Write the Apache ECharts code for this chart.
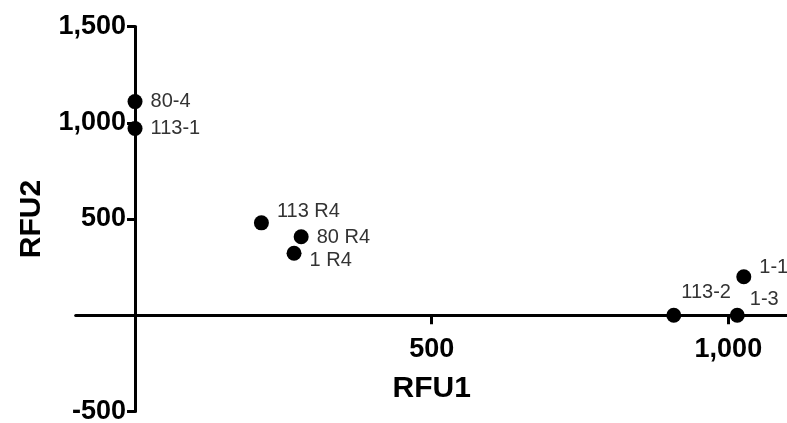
<!DOCTYPE html>
<html>
<head>
<meta charset="utf-8">
<script src="https://cdn.jsdelivr.net/npm/echarts@6/dist/echarts.min.js"></script>
<style>
html,body{margin:0;padding:0;background:#fff;}
#chart{width:787px;height:423px;}
</style>
</head>
<body>
<div id="chart"></div>
<script>
// Data
const pointNames = ['80-4', '113-1', '113 R4', '80 R4', '1 R4', '1-1', '113-2', '1-3'];
const rfu1Values = [0, 0, 213, 280, 268, 1026, 908, 1015];
const rfu2Values = [1110, 970, 480, 408, 322, 200, 0, 0];
const xTickValues = [500, 1000];
const yTickValues = [-500, 500, 1000, 1500];

// Label placement (style, not data)
const labelOffsets = [[0, 0], [0, 0], [0, -11], [0, 1], [0, 7], [0, -9], [-8, -23], [-3, -16]];

const points = pointNames.map((n, i) => ({
  name: n,
  value: [rfu1Values[i], rfu2Values[i]],
  label: { offset: labelOffsets[i] }
}));

const fmt = v => Number(v).toLocaleString('en-US');
const font = 'Liberation Sans, Arial, sans-serif';

// layout
const G = { left: 75.7, width: 712, top: 26.5, height: 385 };
const X = { min: -100, max: 1100 };
const Y = { min: -500, max: 1500 };
// shift each axis so it crosses the other at zero
const yAxisOffset = -((0 - X.min) / (X.max - X.min) * G.width);
const xAxisOffset = -((0 - Y.min) / (Y.max - Y.min) * G.height);

const chart = echarts.init(document.getElementById('chart'));
chart.setOption({
  animation: false,
  backgroundColor: '#fff',
  grid: Object.assign({ containLabel: false, outerBoundsMode: 'none' }, G),
  xAxis: {
    type: 'value', min: X.min, max: X.max, offset: xAxisOffset,
    name: 'RFU1', nameLocation: 'middle', nameGap: 58,
    nameTextStyle: { fontFamily: font, fontWeight: 'bold', fontSize: 30, color: '#000' },
    splitLine: { show: false },
    axisLine: { onZero: false, lineStyle: { color: '#000', width: 3 } },
    axisTick: { show: true, customValues: xTickValues, length: 9, lineStyle: { color: '#000', width: 3 } },
    axisLabel: { customValues: xTickValues, formatter: fmt, margin: 21,
      fontFamily: font, fontWeight: 'bold', fontSize: 27, color: '#000' }
  },
  yAxis: {
    type: 'value', min: Y.min, max: Y.max, offset: yAxisOffset,
    name: 'RFU2', nameLocation: 'middle', nameGap: 88, nameRotate: 90,
    nameTextStyle: { fontFamily: font, fontWeight: 'bold', fontSize: 30, color: '#000' },
    splitLine: { show: false },
    axisLine: { onZero: false, lineStyle: { color: '#000', width: 3 } },
    axisTick: { show: true, customValues: yTickValues, length: 8, lineStyle: { color: '#000', width: 3 } },
    axisLabel: { customValues: yTickValues, formatter: fmt, margin: 9,
      fontFamily: font, fontWeight: 'bold', fontSize: 27, color: '#000' }
  },
  series: [{
    type: 'scatter',
    symbol: 'circle',
    symbolSize: 15,
    itemStyle: { color: '#000', opacity: 1 },
    label: {
      show: true, position: 'right', distance: 8,
      formatter: p => p.name,
      fontFamily: font, fontSize: 20, color: '#333'
    },
    data: points
  }]
});
</script>
</body>
</html>
